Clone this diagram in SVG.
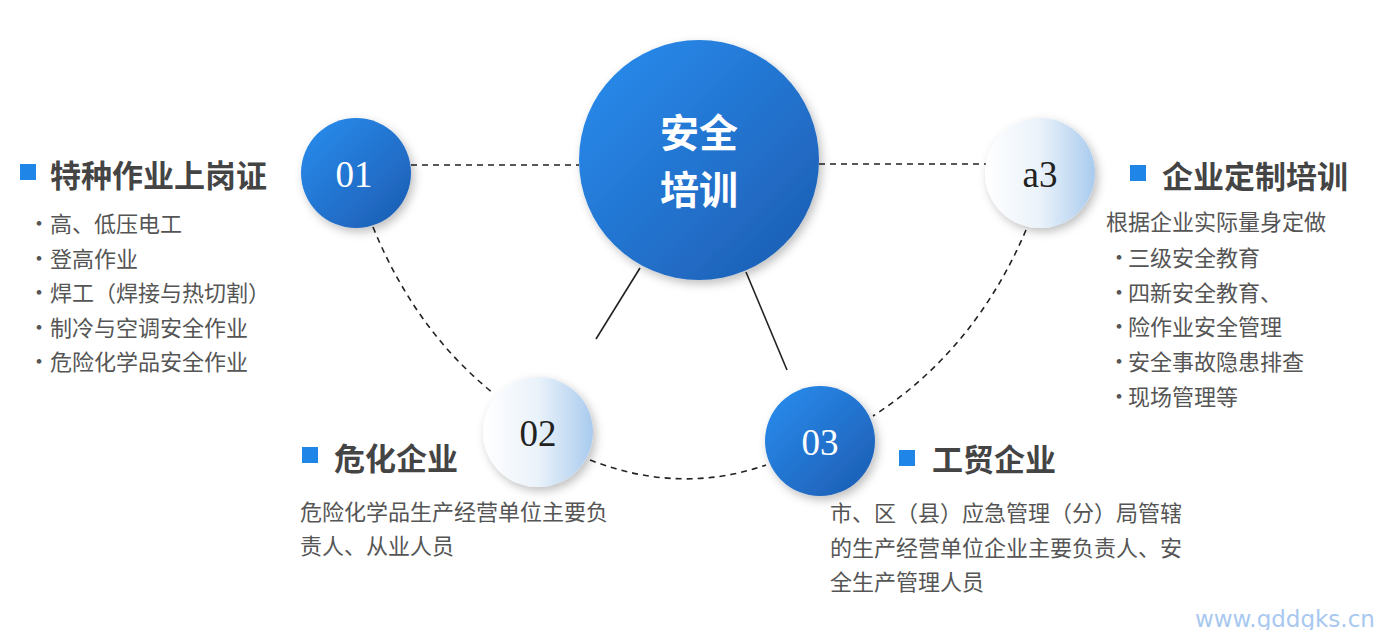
<svg xmlns="http://www.w3.org/2000/svg" width="1375" height="630" viewBox="0 0 1375 630">
<defs>
<linearGradient id="gb" x1="0" y1="0" x2="1" y2="1"><stop offset="0" stop-color="#2a8ef0"/><stop offset="1" stop-color="#1c5bb0"/></linearGradient>
<linearGradient id="gw" x1="0" y1="0" x2="1" y2="0"><stop offset="0" stop-color="#ffffff"/><stop offset="0.5" stop-color="#eaf2fa"/><stop offset="1" stop-color="#a9cbee"/></linearGradient>
<filter id="sh" x="-30%" y="-30%" width="160%" height="160%"><feDropShadow dx="3" dy="4" stdDeviation="5" flood-color="#000" flood-opacity="0.25"/></filter>
<style>
.h{font-family:"Noto Sans CJK SC","Noto Sans",sans-serif;font-weight:bold;font-size:31px;fill:#444}
.t{font-family:"Noto Sans CJK SC","Noto Sans",sans-serif;font-size:22px;fill:#555}
.n{font-family:"Liberation Serif",serif;font-size:37px;text-anchor:middle}
.d{fill:none;stroke:#222;stroke-width:1.6;stroke-dasharray:6 5}
.s{stroke:#222;stroke-width:1.6}
.sq{fill:#1f86e8}
</style>
</defs>
<rect width="1375" height="630" fill="#fff"/>
<g id="connectors">
<line class="d" x1="411" y1="165" x2="579" y2="165"/>
<line class="d" x1="819" y1="164" x2="986" y2="164"/>
<path class="d" d="M373,227 Q415,330 493,393"/>
<path class="d" d="M590,460 Q680,495 766,465"/>
<path class="d" d="M1026,230 Q975,350 873,416"/>
<line class="s" x1="596" y1="339" x2="640" y2="268"/>
<line class="s" x1="787" y1="370" x2="746" y2="272"/>
</g>
<g id="center">
<circle cx="699" cy="160" r="120" fill="url(#gb)" filter="url(#sh)"/>
<text x="699" y="147" text-anchor="middle" font-family="Noto Sans CJK SC,sans-serif" font-weight="bold" font-size="39" fill="#fff">安全</text>
<text x="699" y="204" text-anchor="middle" font-family="Noto Sans CJK SC,sans-serif" font-weight="bold" font-size="39" fill="#fff">培训</text>
</g>
<g id="n01">
<circle cx="356" cy="173" r="55" fill="url(#gb)" filter="url(#sh)"/>
<text class="n" x="354" y="187" fill="#fff">01</text>
<rect class="sq" x="20" y="164" width="16" height="16"/>
<text class="h" x="50" y="187">特种作业上岗证</text>
<g class="t">
<text x="28" y="231">•</text><text x="50" y="232">高、低压电工</text>
<text x="28" y="266">•</text><text x="50" y="267">登高作业</text>
<text x="28" y="300">•</text><text x="50" y="301">焊工（焊接与热切割）</text>
<text x="28" y="335">•</text><text x="50" y="336">制冷与空调安全作业</text>
<text x="28" y="369">•</text><text x="50" y="370">危险化学品安全作业</text>
</g>
</g>
<g id="n02">
<circle cx="538" cy="432" r="55" fill="url(#gw)" filter="url(#sh)"/>
<text class="n" x="538" y="446" fill="#222">02</text>
<rect class="sq" x="302" y="447" width="16" height="16"/>
<text class="h" x="334" y="470">危化企业</text>
<text class="t" x="300" y="520">危险化学品生产经营单位主要负</text>
<text class="t" x="300" y="554">责人、从业人员</text>
</g>
<g id="n03">
<circle cx="820" cy="441" r="55" fill="url(#gb)" filter="url(#sh)"/>
<text class="n" x="820" y="455" fill="#fff">03</text>
<rect class="sq" x="899" y="450" width="16" height="16"/>
<text class="h" x="932" y="471">工贸企业</text>
<text class="t" x="830" y="521">市、区（县）应急管理（分）局管辖</text>
<text class="t" x="830" y="556">的生产经营单位企业主要负责人、安</text>
<text class="t" x="830" y="590">全生产管理人员</text>
</g>
<g id="na3">
<circle cx="1040" cy="173" r="55" fill="url(#gw)" filter="url(#sh)"/>
<text class="n" x="1040" y="187" fill="#222">a3</text>
<rect class="sq" x="1130" y="165" width="16" height="16"/>
<text class="h" x="1162" y="188">企业定制培训</text>
<g class="t">
<text x="1106" y="230">根据企业实际量身定做</text>
<text x="1108" y="265">•</text><text x="1128" y="266">三级安全教育</text>
<text x="1108" y="300">•</text><text x="1128" y="301">四新安全教育、</text>
<text x="1108" y="334">•</text><text x="1128" y="335">险作业安全管理</text>
<text x="1108" y="369">•</text><text x="1128" y="370">安全事故隐患排查</text>
<text x="1108" y="404">•</text><text x="1128" y="405">现场管理等</text>
</g>
</g>
<text x="1195" y="627" font-family="DejaVu Sans,sans-serif" font-size="23" fill="#a8c8f0">www.gddgks.cn</text>
</svg>
